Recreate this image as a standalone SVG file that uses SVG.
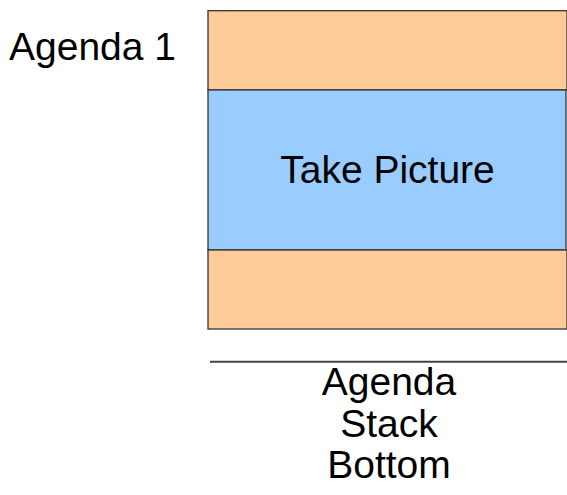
<svg xmlns="http://www.w3.org/2000/svg" width="567" height="495" viewBox="0 0 567 495">
<style>
.t{font-family:"Liberation Sans",Arial,sans-serif;font-size:39px;fill:#000}
.o{fill:#FFCC99;stroke:#333;stroke-width:1.3}
.b{fill:#99CCFF;stroke:#333;stroke-width:1.3}
</style>
<rect width="567" height="495" fill="#fff"/>
<g id="label-agenda1"><text class="t" x="9" y="60">Agenda 1</text></g>
<g id="stack">
<rect id="frame-top" class="o" x="208" y="10.7" width="359" height="79.3"/>
<rect id="frame-take-picture" class="b" x="208" y="90" width="358" height="160"/>
<rect id="frame-bottom" class="o" x="208" y="250" width="359" height="79"/>
<text class="t" x="387.5" y="183" text-anchor="middle">Take Picture</text>
</g>
<g id="stack-bottom">
<line x1="210" y1="361.7" x2="567" y2="361.7" stroke="#444" stroke-width="2"/>
<text class="t" text-anchor="middle" x="389"><tspan x="389" y="395">Agenda</tspan><tspan x="389" y="437">Stack</tspan><tspan x="389" y="478">Bottom</tspan></text>
</g>
</svg>
